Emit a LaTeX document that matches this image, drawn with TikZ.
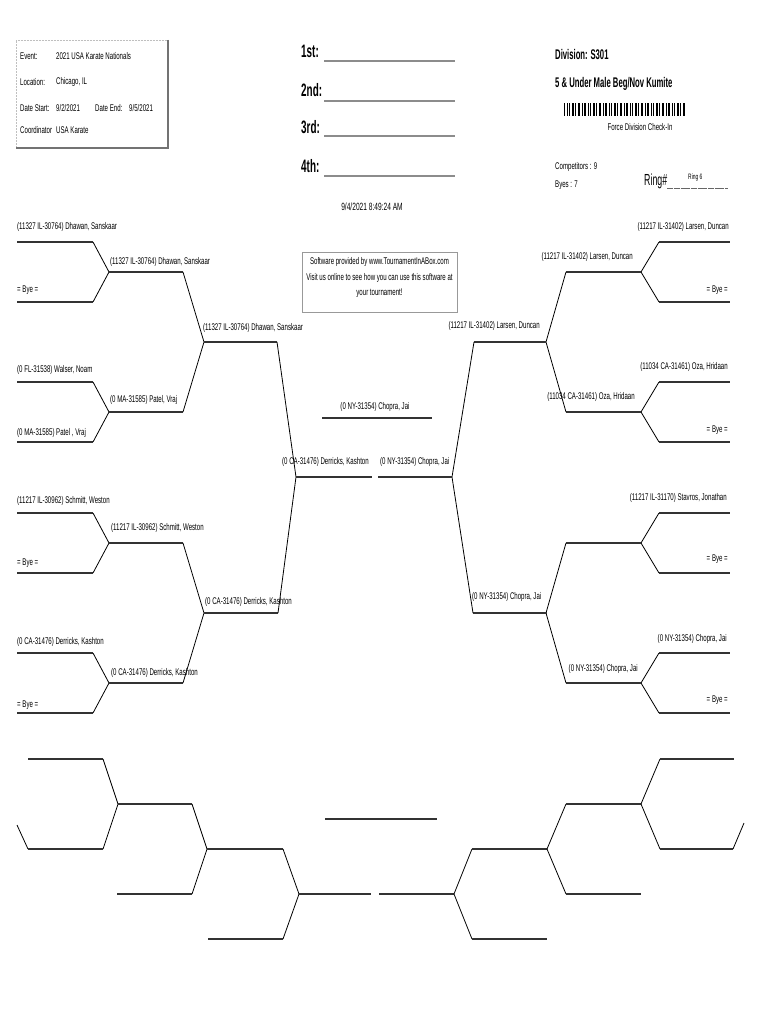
\documentclass[tikz,border=0pt]{standalone}
\usepackage{fontspec}
\setmainfont{Liberation Sans}[FakeStretch=0.63]
\newfontfamily\hfont{Liberation Sans}[FakeStretch=0.55]
\begin{document}
\begin{tikzpicture}[x=1pt,y=-1pt,
  lbl/.style={font=\fontsize{9.7}{10}\selectfont, inner sep=0pt},
  hl/.style={draw=black!80, line width=1.8pt},
  dg/.style={draw=black, line width=0.8pt},
  rule/.style={draw=black!45, line width=1.4pt},
  place/.style={font=\hfont\bfseries\fontsize{18}{20}\selectfont, inner sep=0pt, anchor=west},
  head/.style={font=\hfont\bfseries\fontsize{14}{16}\selectfont, inner sep=0pt, anchor=west}]
\useasboundingbox (0,0) rectangle (770,1024);
\fill[white] (0,0) rectangle (770,1024);

% ---------- info box ----------
\draw[black!25, line width=0.5pt, densely dotted] (16,148) -- (16,40) -- (168,40);
\draw[black!55, line width=2pt] (168,40) -- (168,148) -- (16,148);
\node[lbl, anchor=west] (ev) at (20,56) {Event:};
\node[lbl, anchor=west] (evv) at (56,56) {2021 USA Karate Nationals};
\node[lbl, anchor=west] (loc) at (20,82) {Location:};
\node[lbl, anchor=west] (locv) at (56,82) {Chicago, IL};
\node[lbl, anchor=west] (ds) at (20,108) {Date Start:};
\node[lbl, anchor=west] (dsv) at (56,108) {9/2/2021};
\node[lbl, anchor=west] (de) at (95,108) {Date End:};
\node[lbl, anchor=west] (dev) at (129,108) {9/5/2021};
\node[lbl, anchor=west] (co) at (20,130) {Coordinator};
\node[lbl, anchor=west] (cov) at (56,130) {USA Karate};

% ---------- places ----------
\node[place] (p1) at (301,51) {1st:};
\node[place] (p2) at (301,90) {2nd:};
\node[place] (p3) at (301,127) {3rd:};
\node[place] (p4) at (301,166) {4th:};
\coordinate (p1a) at (324,61);  \coordinate (p1b) at (455,61);
\coordinate (p2a) at (324,101); \coordinate (p2b) at (455,101);
\coordinate (p3a) at (324,136); \coordinate (p3b) at (455,136);
\coordinate (p4a) at (324,176); \coordinate (p4b) at (455,176);
\draw[rule] (p1a) -- (p1b);
\draw[rule] (p2a) -- (p2b);
\draw[rule] (p3a) -- (p3b);
\draw[rule] (p4a) -- (p4b);

% ---------- division ----------
\node[head] (div) at (555,55) {Division: S301};
\node[head] (dname) at (555,84) {5 \& Under Male Beg/Nov Kumite};
\foreach \i in {0,...,81} {
  \pgfmathtruncatemacro\r{mod(\i*37+11,7)}
  \ifnum\r<5
    \ifnum\r<2
      \fill[black] ({564+\i*1.5},103) rectangle ({564+\i*1.5+1.2},116);
    \else
      \fill[black] ({564+\i*1.5},103) rectangle ({564+\i*1.5+0.7},116);
    \fi
  \fi
}
\node[lbl] (fdc) at (640,127) {Force Division Check-In};
\node[lbl, anchor=west] (comp) at (555,167) {Competitors : 9};
\node[lbl, anchor=west] (byes) at (555,185) {Byes : 7};
\node[font=\hfont\fontsize{16}{18}\selectfont, inner sep=0pt, anchor=west] (ring) at (644,181) {Ring\#};
\coordinate (ru1) at (667,188); \coordinate (ru2) at (728,188);
\draw[black!60, line width=0.6pt, dash pattern=on 3pt off 0.4pt] (ru1) -- (ru2);
\node[lbl, font=\fontsize{7.8}{8}\selectfont, anchor=west] (ringv) at (688,177) {Ring 6};

% ---------- time and software box ----------
\node[lbl, font=\fontsize{10.5}{11}\selectfont] (ts) at (372,207) {9/4/2021 8:49:24 AM};
\draw[black!40, line width=0.6pt] (302,252) rectangle (457,312);
\node[lbl, align=center, font=\fontsize{9.7}{15.5}\selectfont] (sw) at (379.5,277.5)
  {Software provided by www.TournamentInABox.com\\Visit us online to see how you can use this software at\\your tournament!};

% ---------- left bracket ----------
\foreach \t/\b in {242/302,382/442,513/573,653/713} {
  \draw[hl] (17,\t) -- (93,\t);
  \draw[hl] (17,\b) -- (93,\b);
  \draw[dg] (93,\t) -- (109,{(\t+\b)/2}) -- (93,\b);
}
\foreach \t/\b in {272/412,543/683} {
  \draw[hl] (109,\t) -- (183,\t);
  \draw[hl] (109,\b) -- (183,\b);
  \draw[dg] (183,\t) -- (204,{(\t+\b)/2}) -- (183,\b);
}
\coordinate (LS1) at (204,342); \coordinate (LS1e) at (277,342);
\coordinate (LS2) at (204,613); \coordinate (LS2e) at (278,613);
\coordinate (LF) at (296,477); \coordinate (LFe) at (372,477);
\draw[hl] (LS1) -- (LS1e);
\draw[hl] (LS2) -- (LS2e);
\draw[dg] (LS1e) -- (LF) -- (LS2e);
\draw[hl] (LF) -- (LFe);

% ---------- right bracket ----------
\foreach \t/\b in {242/302,382/442,513/573,653/713} {
  \draw[hl] (659,\t) -- (730,\t);
  \draw[hl] (659,\b) -- (730,\b);
  \draw[dg] (659,\t) -- (641,{(\t+\b)/2}) -- (659,\b);
}
\foreach \t/\b in {272/412,543/683} {
  \draw[hl] (566,\t) -- (641,\t);
  \draw[hl] (566,\b) -- (641,\b);
  \draw[dg] (566,\t) -- (546,{(\t+\b)/2}) -- (566,\b);
}
\coordinate (RS1) at (546,342); \coordinate (RS1e) at (474,342);
\coordinate (RS2) at (547,613); \coordinate (RS2e) at (473,613);
\coordinate (RF) at (452,477); \coordinate (RFe) at (378,477);
\draw[hl] (RS1) -- (RS1e);
\draw[hl] (RS2) -- (RS2e);
\draw[dg] (RS1e) -- (RF) -- (RS2e);
\draw[hl] (RF) -- (RFe);

% champion line
\coordinate (C1) at (322,418); \coordinate (C2) at (432,418);
\draw[hl] (C1) -- (C2);

% ---------- left labels ----------
\node[lbl, anchor=west] (l1a) at (17,227) {(11327 IL-30764) Dhawan, Sanskaar};
\node[lbl, anchor=west] (l1b) at (17,290) {= Bye =};
\node[lbl, anchor=west] (l2a) at (110,262) {(11327 IL-30764) Dhawan, Sanskaar};
\node[lbl, anchor=west] (l3a) at (203,328) {(11327 IL-30764) Dhawan, Sanskaar};
\node[lbl, anchor=west] (l1c) at (17,370) {(0 FL-31538) Walser, Noam};
\node[lbl, anchor=west] (l1d) at (17,433) {(0 MA-31585) Patel , Vraj};
\node[lbl, anchor=west] (l2b) at (110,400) {(0 MA-31585) Patel, Vraj};
\node[lbl, anchor=west] (l1e) at (17,501) {(11217 IL-30962) Schmitt, Weston};
\node[lbl, anchor=west] (l1f) at (17,563) {= Bye =};
\node[lbl, anchor=west] (l2c) at (111,528) {(11217 IL-30962) Schmitt, Weston};
\node[lbl, anchor=west] (l1g) at (17,642) {(0 CA-31476) Derricks, Kashton};
\node[lbl, anchor=west] (l1h) at (17,705) {= Bye =};
\node[lbl, anchor=west] (l2d) at (111,673) {(0 CA-31476) Derricks, Kashton};
\node[lbl, anchor=west] (l3b) at (205,602) {(0 CA-31476) Derricks, Kashton};
\node[lbl, anchor=east] (lf) at (369,462) {(0 CA-31476) Derricks, Kashton};

% ---------- right labels ----------
\node[lbl, anchor=east] (r1a) at (729,227) {(11217 IL-31402) Larsen, Duncan};
\node[lbl, anchor=east] (r1b) at (728,290) {= Bye =};
\node[lbl, anchor=east] (r2a) at (633,257) {(11217 IL-31402) Larsen, Duncan};
\node[lbl, anchor=east] (r3a) at (540,326) {(11217 IL-31402) Larsen, Duncan};
\node[lbl, anchor=east] (r1c) at (728,367) {(11034 CA-31461) Oza, Hridaan};
\node[lbl, anchor=east] (r1d) at (728,430) {= Bye =};
\node[lbl, anchor=east] (r2b) at (635,397) {(11034 CA-31461) Oza, Hridaan};
\node[lbl, anchor=east] (r1e) at (727,498) {(11217 IL-31170) Stavros, Jonathan};
\node[lbl, anchor=east] (r1f) at (728,559) {= Bye =};
\node[lbl, anchor=east] (r1g) at (727,639) {(0 NY-31354) Chopra, Jai};
\node[lbl, anchor=east] (r1h) at (728,700) {= Bye =};
\node[lbl, anchor=east] (r2d) at (638,669) {(0 NY-31354) Chopra, Jai};
\node[lbl, anchor=west] (r3b) at (472,597) {(0 NY-31354) Chopra, Jai};
\node[lbl, anchor=west] (rf) at (380,462) {(0 NY-31354) Chopra, Jai};
\node[lbl] (champ) at (375,407) {(0 NY-31354) Chopra, Jai};

% ---------- empty bracket below ----------
% left half
\draw[hl] (28,759) -- (103,759);
\draw[dg] (103,759) -- (118,804) -- (103,849);
\draw[dg] (17,825) -- (28,849);
\draw[hl] (28,849) -- (103,849);
\draw[hl] (118,804) -- (192,804);
\draw[hl] (117,894) -- (192,894);
\draw[dg] (192,804) -- (207,849) -- (192,894);
\draw[hl] (207,849) -- (283,849);
\draw[hl] (208,939) -- (283,939);
\draw[dg] (283,849) -- (299,894) -- (283,939);
\draw[hl] (299,894) -- (371,894);
% centre
\draw[hl] (325,819) -- (437,819);
% right half
\draw[hl] (379,894) -- (454,894);
\draw[dg] (472,849) -- (454,894) -- (472,939);
\draw[hl] (472,849) -- (547,849);
\draw[hl] (472,939) -- (547,939);
\draw[dg] (566,804) -- (547,849) -- (566,894);
\draw[hl] (566,804) -- (641,804);
\draw[hl] (566,894) -- (641,894);
\draw[dg] (660,759) -- (641,804) -- (660,849);
\draw[hl] (660,759) -- (734,759);
\draw[hl] (660,849) -- (733,849);
\draw[dg] (733,849) -- (744,823);
\end{tikzpicture}
\end{document}
